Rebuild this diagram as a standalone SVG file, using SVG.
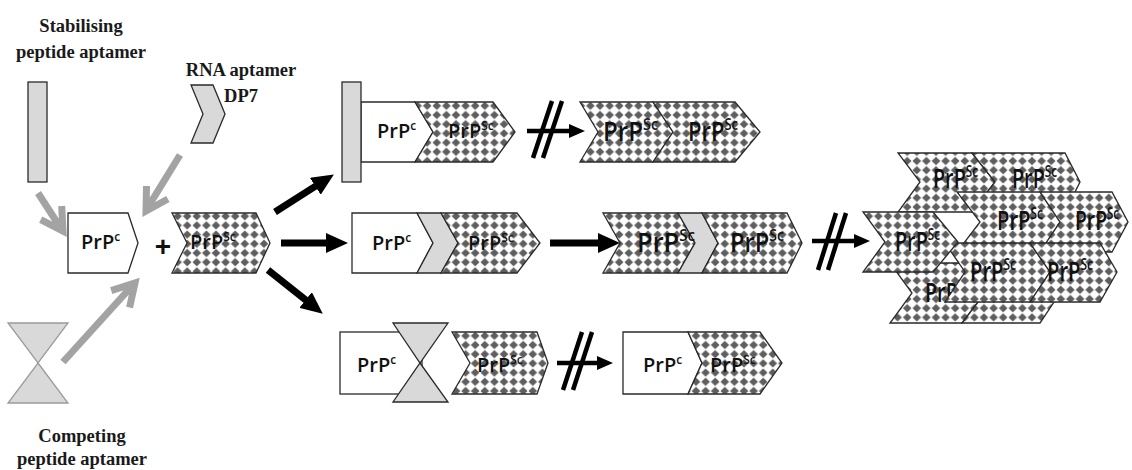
<svg xmlns="http://www.w3.org/2000/svg" width="1132" height="470" viewBox="0 0 1132 470">
  <defs>
    <!-- checkered fill used for the PrPSc units -->
    <pattern id="chk" width="9.6" height="9.2" patternUnits="userSpaceOnUse">
      <rect width="9.6" height="9.2" fill="#ffffff"/>
      <path d="M4.8 0.5 L9.1 4.6 L4.8 8.7 L0.5 4.6Z" fill="#5e5e5e"/>
    </pattern>
    <marker id="headB" markerUnits="userSpaceOnUse" markerWidth="22" markerHeight="20" viewBox="0 0 22 20" refX="11" refY="10" orient="auto">
      <path d="M0 0 L22 10 L0 20Z" fill="#000"/>
    </marker>
    <marker id="headS" markerUnits="userSpaceOnUse" markerWidth="16" markerHeight="14" viewBox="0 0 16 14" refX="8" refY="7" orient="auto">
      <path d="M0 0 L16 7 L0 14Z" fill="#000"/>
    </marker>
  </defs>
  <style>
    .cap { font-family: "Liberation Serif", "Times New Roman", serif; font-weight: bold; font-size: 18.5px; fill: #1a1a1a; text-anchor: middle; }
    .lbl { font-family: "Open Sans", "Liberation Sans", sans-serif; font-weight: 600; font-size: 20px; fill: #111; }
    .big { font-family: "Open Sans", "Liberation Sans", sans-serif; font-weight: 600; font-size: 27px; fill: #111; }
    .sup { font-size: 12px; }
    .supb { font-size: 16px; }
    .plain { fill: #ffffff; stroke: #2a2a2a; stroke-width: 1.3; }
    .grey { fill: #d9d9d9; stroke: #2a2a2a; stroke-width: 1.3; }
    .chk { fill: url(#chk); stroke: #2a2a2a; stroke-width: 1.3; }
    .garrow { fill: none; stroke: #a3a3a3; stroke-width: 7; stroke-linejoin: miter; }
    .barrow { stroke: #000; stroke-width: 7; marker-end: url(#headB); }
    .sarrow { stroke: #000; stroke-width: 4.5; marker-end: url(#headS); }
    .slash { stroke: #000; stroke-width: 4.5; }
  </style>
  <rect width="1132" height="470" fill="#ffffff"/>

  <!-- captions -->
  <g id="stabilising-aptamer">
    <text class="cap" x="81" y="32">Stabilising</text>
    <text class="cap" x="81" y="58">peptide aptamer</text>
    <rect class="grey" x="28" y="82" width="19" height="100"/>
  </g>
  <g id="rna-aptamer">
    <text class="cap" x="241" y="76">RNA aptamer</text>
    <text class="cap" x="241" y="102">DP7</text>
    <polygon class="grey" points="191,85 213,85 225,114 213,143 191,143 203,114"/>
  </g>
  <g id="competing-aptamer">
    <polygon points="8,323 68,323 38,363" fill="#d9d9d9" stroke="#9a9a9a" stroke-width="1.3"/>
    <polygon points="38,363 68,403 8,403" fill="#d9d9d9" stroke="#9a9a9a" stroke-width="1.3"/>
    <text class="cap" x="82" y="442">Competing</text>
    <text class="cap" x="82" y="465">peptide aptamer</text>
  </g>

  <!-- starting monomer + seed -->
  <g id="prpc-start">
    <polygon class="plain" points="68,213 128,213 138,243 128,273 68,273"/>
    <text class="lbl" x="81" y="249">PrP<tspan class="sup" dy="-8">c</tspan></text>
  </g>
  <text id="plus" x="163" y="256" font-family="Liberation Sans, sans-serif" font-weight="bold" font-size="28" text-anchor="middle" fill="#111">+</text>
  <g id="prpsc-seed">
    <polygon class="chk" points="172,213 256,213 270,243 256,273 172,273 187,243"/>
    <text class="lbl" x="190" y="249">PrP<tspan class="sup" dy="-8">Sc</tspan></text>
  </g>

  <!-- top branch: stabilised PrPc -->
  <g id="stabilised-complex">
    <polygon class="plain" points="361,102 415,102 433,132 415,162 361,162"/>
    <polygon class="chk" points="415,102 493,102 515,132 493,162 415,162 433,132"/>
    <rect class="grey" x="342" y="82" width="19" height="100"/>
    <text class="lbl" x="377" y="138">PrP<tspan class="sup" dy="-8">c</tspan></text>
    <text class="lbl" x="448" y="138">PrP<tspan class="sup" dy="-8">Sc</tspan></text>
  </g>
  <g id="top-dimer">
    <polygon class="chk" points="580,102 653,102 673,132 653,162 580,162 598,132"/>
    <polygon class="chk" points="653,102 735,102 760,132 735,162 653,162 673,132"/>
    <text class="big" x="603" y="141" textLength="55" lengthAdjust="spacingAndGlyphs">PrP<tspan class="supb" dy="-11">Sc</tspan></text>
    <text class="big" x="688" y="141" textLength="50" lengthAdjust="spacingAndGlyphs">PrP<tspan class="supb" dy="-11">Sc</tspan></text>
  </g>

  <!-- middle branch: RNA aptamer bound -->
  <g id="rna-complex">
    <polygon class="plain" points="352,213 417,213 433,243 417,273 352,273"/>
    <polygon class="grey" points="417,213 441,213 458,243 441,273 417,273 433,243"/>
    <polygon class="chk" points="441,213 517,213 540,243 517,273 441,273 458,243"/>
    <text class="lbl" x="372" y="250">PrP<tspan class="sup" dy="-8">c</tspan></text>
    <text class="lbl" x="468" y="250">PrP<tspan class="sup" dy="-8">Sc</tspan></text>
  </g>
  <g id="rna-dimer">
    <polygon class="chk" points="603,213 678,213 695,243 678,273 603,273 620,243"/>
    <polygon class="grey" points="678,213 702,213 718,243 702,273 678,273 695,243"/>
    <polygon class="chk" points="702,213 787,213 802,243 787,273 702,273 718,243"/>
    <text class="big" x="637" y="252" textLength="58" lengthAdjust="spacingAndGlyphs">PrP<tspan class="supb" dy="-11">Sc</tspan></text>
    <text class="big" x="730" y="252" textLength="54" lengthAdjust="spacingAndGlyphs">PrP<tspan class="supb" dy="-11">Sc</tspan></text>
  </g>

  <!-- fibril cluster: stacked two-unit rows, back to front -->
  <g id="fibril">
    <polygon class="chk" points="898,153 972,153 995,182 972,212 898,212 920,182"/>
    <polygon class="chk" points="972,153 1065,153 1080,182 1065,212 972,212 995,182"/>
    <text class="big" x="933" y="188" textLength="45" lengthAdjust="spacingAndGlyphs">PrP<tspan class="supb" dy="-11">Sc</tspan></text>
    <text class="big" x="1012" y="188" textLength="45" lengthAdjust="spacingAndGlyphs">PrP<tspan class="supb" dy="-11">Sc</tspan></text>

    <polygon class="chk" points="890,263 962,263 985,293 962,323 890,323 912,293"/>
    <polygon class="chk" points="962,263 1040,263 1060,293 1040,323 962,323 985,293"/>
    <text class="big" x="925" y="302" textLength="45" lengthAdjust="spacingAndGlyphs">PrP<tspan class="supb" dy="-11">Sc</tspan></text>

    <polygon class="chk" points="957,192 1040,192 1060,222 1040,252 957,252 980,222"/>
    <polygon class="chk" points="1040,192 1112,192 1128,222 1112,252 1040,252 1060,222"/>
    <text class="big" x="997" y="230" textLength="46" lengthAdjust="spacingAndGlyphs">PrP<tspan class="supb" dy="-11">Sc</tspan></text>
    <text class="big" x="1075" y="230" textLength="44" lengthAdjust="spacingAndGlyphs">PrP<tspan class="supb" dy="-11">Sc</tspan></text>

    <polygon class="chk" points="945,243 1030,243 1050,272 1030,302 945,302 965,272"/>
    <polygon class="chk" points="1030,243 1100,243 1117,272 1100,302 1030,302 1050,272"/>
    <text class="big" x="970" y="281" textLength="46" lengthAdjust="spacingAndGlyphs">PrP<tspan class="supb" dy="-11">Sc</tspan></text>
    <text class="big" x="1047" y="281" textLength="46" lengthAdjust="spacingAndGlyphs">PrP<tspan class="supb" dy="-11">Sc</tspan></text>

    <polygon class="chk" points="863,212 933,212 958,242 933,272 863,272 885,242"/>
    <text class="big" x="895" y="251" textLength="45" lengthAdjust="spacingAndGlyphs">PrP<tspan class="supb" dy="-11">Sc</tspan></text>
  </g>

  <!-- bottom branch: competing aptamer -->
  <g id="competing-complex">
    <rect class="plain" x="340" y="332" width="82" height="62"/>
    <polygon class="grey" points="393,323 448,323 420,363"/>
    <polygon class="grey" points="420,363 448,402 393,402"/>
    <polygon class="chk" points="452,332 537,332 548,363 537,394 452,394 470,363"/>
    <text class="lbl" x="357" y="372">PrP<tspan class="sup" dy="-8">c</tspan></text>
    <text class="lbl" x="477" y="372">PrP<tspan class="sup" dy="-8">Sc</tspan></text>
  </g>
  <g id="bottom-dimer">
    <polygon class="plain" points="623,332 688,332 702,363 688,394 623,394"/>
    <polygon class="chk" points="688,332 760,332 782,363 760,394 688,394 702,363"/>
    <text class="lbl" x="643" y="372">PrP<tspan class="sup" dy="-8">c</tspan></text>
    <text class="lbl" x="710" y="372">PrP<tspan class="sup" dy="-8">Sc</tspan></text>
  </g>

  <!-- connectors -->
  <g id="connectors">
    <path class="garrow" d="M38 193 L60 227 M61.7 206 L63 231 L40.7 219.6"/>
    <path class="garrow" d="M180 155 L148 207 M167.9 199 L146 211 L146.5 186"/>
    <path class="garrow" d="M63 362 L132 286 M111.2 290.6 L135 283 L129.6 307.4"/>

    <line class="barrow" x1="275" y1="212" x2="324.6" y2="180.4"/>
    <line class="barrow" x1="281" y1="243" x2="337" y2="243"/>
    <line class="barrow" x1="268" y1="270" x2="314.2" y2="306.8"/>
    <line class="barrow" x1="550" y1="243" x2="609" y2="243"/>

    <line class="sarrow" x1="527" y1="131" x2="577" y2="131"/>
    <line class="slash" x1="533" y1="158" x2="552" y2="101"/>
    <line class="slash" x1="543" y1="158" x2="562" y2="101"/>

    <line class="sarrow" x1="812" y1="241" x2="862" y2="241"/>
    <line class="slash" x1="818" y1="270" x2="836" y2="213"/>
    <line class="slash" x1="828" y1="270" x2="846" y2="213"/>

    <line class="sarrow" x1="557" y1="363" x2="605" y2="363"/>
    <line class="slash" x1="563" y1="390" x2="582" y2="332"/>
    <line class="slash" x1="573" y1="390" x2="592" y2="332"/>
  </g>
</svg>
